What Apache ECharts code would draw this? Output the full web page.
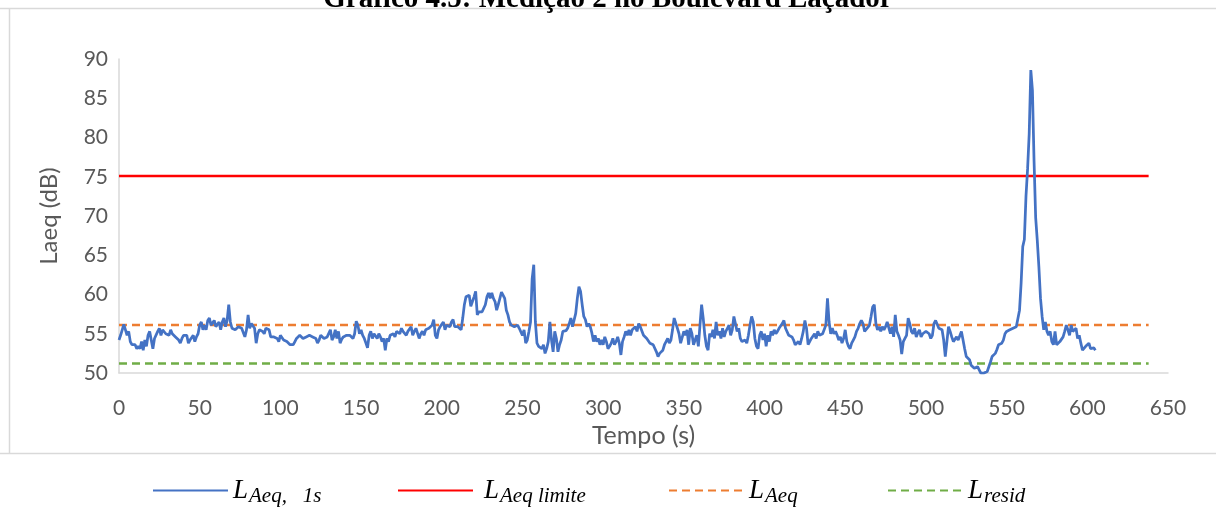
<!DOCTYPE html>
<html><head><meta charset="utf-8">
<script src="https://cdn.jsdelivr.net/npm/echarts@6/dist/echarts.min.js"></script>
<style>html,body{margin:0;padding:0;background:#fff}#c{width:1216px;height:516px}</style>
</head><body><div id="c"></div>
<script>
const titulo = 'Gráfico 4.5: Medição 2 no Boulevard Laçador';
const nomeX = 'Tempo (s)';
const nomeY = 'Laeq (dB)';
const xTicks = {min: 0, max: 650, step: 50};
const yTicks = {min: 50, max: 90, step: 5};

// LAeq,1s one value per second, t = 0 .. 605 s
const laeq1s = [
54.2,54.8,55.5,56.2,56.1,54.8,55.3,54.0,53.6,53.4,
53.6,53.1,53.4,53.1,54.0,52.9,54.2,53.4,54.8,55.3,
55.5,53.1,54.4,54.6,55.3,55.7,54.8,55.5,55.3,55.0,55.1,
54.8,55.5,55.0,54.8,54.6,54.8,54.2,53.8,54.4,54.8,
54.6,54.8,53.8,54.2,54.0,54.8,54.0,54.6,55.0,56.1,
56.5,55.5,56.1,55.5,56.7,57.0,56.1,55.9,56.7,55.9,56.2,
56.5,55.5,56.5,57.0,55.9,56.7,58.7,56.5,55.7,55.9,
55.5,55.7,55.9,55.7,55.7,55.9,54.6,55.5,57.4,55.7,
56.3,56.5,55.7,53.8,55.0,55.5,55.7,55.3,55.0,55.7,55.6,
55.5,54.6,54.8,54.6,54.8,54.4,54.0,54.8,55.0,54.2,
54.0,54.0,53.8,53.6,53.7,
// 108 ..
53.6,54.0,54.4,54.6,54.8,54.8,54.4,54.2,54.6,54.4,
54.8,55.0,54.6,54.8,54.4,53.8,54.2,54.8,55.0,54.4,
54.2,54.6,54.8,55.5,54.2,54.6,55.5,54.4,55.3,53.8,54.3,
54.6,54.4,54.8,54.6,54.8,55.0,54.4,55.0,56.6,56.1,
55.0,55.5,54.8,54.4,53.8,53.2,54.8,55.3,54.4,55.0,
54.8,54.4,55.0,54.6,54.0,54.4,52.9,54.4,54.0,54.8,54.9,
55.0,54.6,55.3,55.5,55.0,55.7,55.3,55.5,54.8,55.3,
55.3,55.9,54.8,55.3,55.7,55.5,54.4,55.0,55.3,54.8,
55.5,55.3,55.7,55.5,56.1,56.8,54.8,54.4,55.5,55.9,56.2,
56.5,55.5,56.1,56.3,55.9,56.5,56.8,55.9,55.7,55.9,
55.7,55.5,57.0,58.7,59.7,
// 216 ..
59.7,59.9,58.5,59.1,59.7,60.4,57.4,57.8,57.7,57.8,
58.0,58.7,59.7,60.2,59.5,60.2,59.5,59.1,58.0,58.7,
59.5,60.3,60.2,59.5,58.0,57.4,56.5,56.1,55.9,55.9,56.0,
56.1,55.7,55.5,54.8,55.5,53.8,54.2,55.3,56.5,62.0,
63.8,56.5,53.8,53.4,53.6,53.1,53.6,52.5,53.1,54.0,
56.5,54.2,52.7,55.3,54.4,52.7,53.6,54.2,55.3,55.1,55.4,
55.7,56.3,57.0,55.9,56.1,57.6,59.5,61.0,60.4,58.7,
57.2,56.8,55.9,56.3,55.9,55.1,54.0,54.8,54.0,54.4,
53.6,54.2,53.6,54.6,54.0,53.1,53.4,53.8,54.4,53.6,54.0,
54.6,53.8,52.3,54.0,54.6,55.3,54.8,55.5,54.8,55.5,
55.3,55.9,55.3,56.3,55.9,56.1,
// 325 ..
54.8,54.6,54.4,54.2,53.8,54.0,53.6,53.4,52.7,52.1,
52.5,52.5,52.9,53.6,54.0,54.4,53.8,54.2,55.5,57.0,
57.2,55.7,55.0,53.8,53.6,55.3,54.8,55.5,53.6,55.7,55.0,
53.6,53.4,54.8,53.4,56.1,58.7,57.0,54.8,53.4,52.9,
55.0,54.6,55.5,54.4,56.5,54.8,55.3,54.4,55.7,54.6,
55.3,55.7,56.1,54.8,55.5,57.2,57.4,55.3,55.7,54.4,54.0,
53.8,54.2,53.8,54.8,56.1,57.2,56.5,54.4,53.4,53.1,
54.8,55.3,54.2,55.0,53.4,54.8,54.0,55.3,54.8,55.5,
55.0,55.3,55.7,55.9,56.3,56.7,55.7,55.9,54.8,55.0,54.6,
54.2,53.6,53.8,54.0,53.6,54.4,55.3,56.7,55.7,53.6,
53.8,54.4,54.2,55.0,54.4,55.3,
// 434 ..
54.8,54.6,55.0,54.8,56.1,59.5,56.5,55.0,55.7,55.0,
55.3,54.8,54.2,54.6,53.8,54.4,55.5,54.0,53.4,53.1,
53.8,54.2,54.6,55.3,55.7,56.3,56.7,56.3,55.3,55.5,55.8,
56.1,57.2,58.4,58.7,56.3,55.5,55.9,55.3,55.9,55.5,
55.9,56.5,56.7,55.0,55.9,54.6,57.4,55.3,54.8,54.2,
52.4,54.0,54.4,54.8,57.0,56.3,55.3,55.0,55.7,54.6,55.1,
55.5,54.6,55.0,54.8,55.3,55.5,55.0,54.4,54.8,56.3,
56.7,56.5,55.7,55.9,55.5,54.2,52.1,54.0,55.9,55.3,
54.6,54.0,53.8,54.6,54.2,54.4,55.3,54.2,53.1,52.1,51.9,
51.7,51.0,50.8,50.6,50.4,50.8,50.4,50.0,50.2,50.0,
50.0,50.2,50.8,51.4,52.1,52.3,52.5,
// 544 ..
53.0,53.6,53.8,53.8,54.2,55.0,55.3,55.5,55.5,55.6,
55.7,55.5,55.9,56.1,58.0,61.5,66.1,67.0,72.5,76.0,
80.5,88.6,86.0,77.0,69.8,66.9,63.5,59.5,57.2,55.5,
56.5,55.3,54.8,55.3,54.0,53.6,55.3,53.6,53.6,54.0,
53.8,54.6,55.3,56.1,55.5,54.8,56.1,55.3,55.5,55.7,
54.4,54.8,53.8,52.9,53.1,53.4,53.6,53.8,53.1,52.9,
53.2,52.9
];

const laeqLimite = 75.1;   // L Aeq limite
const laeqMedio = 56.1;    // L Aeq
const lResid = 51.2;       // L resid
const tempoRef = [0, 638]; // extent of the reference lines

const nomes = ['LAeq1s', 'LAeqLimite', 'LAeq', 'Lresid'];
const cores = ['#4472C4', '#FF0000', '#ED7D31', '#70AD47'];
const subs = ['Aeq,   1s', 'Aeq limite', 'Aeq', 'resid'];

const chart = echarts.init(document.getElementById('c'), null, {renderer: 'canvas'});
const tickColor = '#595959';
const fontUI = 'Lato, "Open Sans", sans-serif';
const frameColor = '#D9D9D9';

function refLine(v) { return tempoRef.map(t => [t, v]); }

const legendX = [147, 392, 663, 882];
const legendPad = [0, 6, 0, 0];
const legends = nomes.map((n, i) => ({
  data: [n],
  left: legendX[i],
  top: 472,
  itemWidth: 75,
  itemHeight: 14,
  itemGap: 0,
  itemStyle: {opacity: 0},
  formatter: () => '{L|L}{s|' + subs[i] + '}',
  textStyle: {
    rich: {
      L: {fontFamily: '"Liberation Serif", serif', fontStyle: 'italic', fontSize: 27, color: '#000', padding: [0, 0, 0, legendPad[i]]},
      s: {fontFamily: '"Liberation Serif", serif', fontStyle: 'italic', fontSize: 21, color: '#000', padding: [12, 0, 0, 1]}
    }
  }
}));

chart.setOption({
  animation: false,
  backgroundColor: '#fff',
  title: {
    text: titulo, left: 'center', top: -20,
    textStyle: {fontFamily: '"Liberation Serif", serif', fontWeight: 'bold', fontSize: 29, color: '#000'}
  },
  graphic: [
    {type: 'line', shape: {x1: 0, y1: 8.5, x2: 1216, y2: 8.5}, style: {stroke: frameColor, lineWidth: 1.5}, silent: true},
    {type: 'line', shape: {x1: 9.5, y1: 8, x2: 9.5, y2: 453}, style: {stroke: frameColor, lineWidth: 1.5}, silent: true},
    {type: 'line', shape: {x1: 0, y1: 453.5, x2: 1216, y2: 453.5}, style: {stroke: frameColor, lineWidth: 1.5}, silent: true}
  ],
  grid: {left: 119, right: 48, top: 59, bottom: 143},
  legend: legends,
  xAxis: {
    type: 'value', min: xTicks.min, max: xTicks.max, interval: xTicks.step,
    name: nomeX, nameLocation: 'middle', nameGap: 45,
    nameTextStyle: {fontFamily: fontUI, fontSize: 25, color: tickColor},
    axisLine: {lineStyle: {color: frameColor, width: 1.5}},
    axisTick: {show: false},
    splitLine: {show: false},
    axisLabel: {fontFamily: fontUI, fontSize: 21, color: tickColor, margin: 25}
  },
  yAxis: {
    type: 'value', min: yTicks.min, max: yTicks.max, interval: yTicks.step,
    name: nomeY, nameLocation: 'middle', nameGap: 58,
    nameTextStyle: {fontFamily: fontUI, fontSize: 24, color: tickColor},
    axisLine: {show: true, lineStyle: {color: frameColor, width: 1.5}},
    axisTick: {show: false},
    splitLine: {show: false},
    axisLabel: {fontFamily: fontUI, fontSize: 21, color: tickColor, margin: 11}
  },
  series: [
    {name: nomes[0], type: 'line', symbol: 'none', data: laeq1s.map((v, i) => [i, v]),
     lineStyle: {color: cores[0], width: 2.75}, itemStyle: {color: cores[0]}, z: 5},
    {name: nomes[1], type: 'line', symbol: 'none', data: refLine(laeqLimite),
     lineStyle: {color: cores[1], width: 2.5}, itemStyle: {color: cores[1]}},
    {name: nomes[2], type: 'line', symbol: 'none', data: refLine(laeqMedio),
     lineStyle: {color: cores[2], width: 2.5, type: [8, 5]}, itemStyle: {color: cores[2]}},
    {name: nomes[3], type: 'line', symbol: 'none', data: refLine(lResid),
     lineStyle: {color: cores[3], width: 2.5, type: [8, 5]}, itemStyle: {color: cores[3]}}
  ]
});
</script></body></html>
